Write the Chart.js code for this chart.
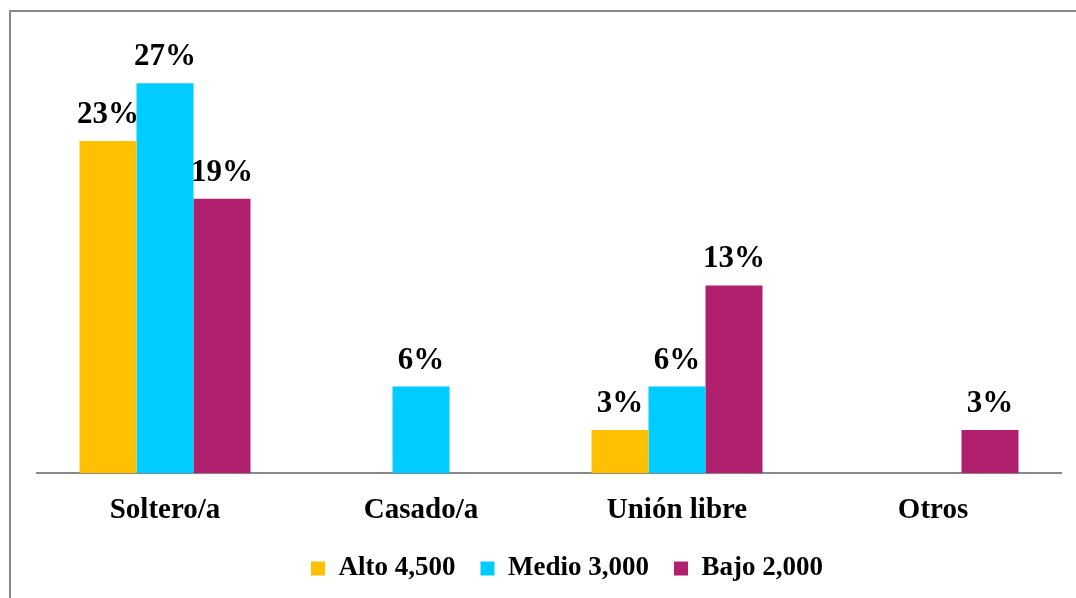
<!DOCTYPE html>
<html>
<head>
<meta charset="utf-8">
<script src="https://cdn.jsdelivr.net/npm/chart.js@4.4.0/dist/chart.umd.min.js"></script>
<style>
  html, body { margin: 0; padding: 0; background: #fff; }
  #wrap { width: 1076px; height: 598px; }
</style>
</head>
<body>
<div id="wrap"><canvas id="grafico"></canvas></div>
<script>
// Datos del gráfico
const categorias = ['Soltero/a', 'Casado/a', 'Unión libre', 'Otros'];
const nombresSeries = ['Alto 4,500', 'Medio 3,000', 'Bajo 2,000'];
const alto = [23, 0, 3, 0];
const medio = [27, 6, 6, 0];
const bajo = [19, 0, 13, 3];
const colores = ['#FFC000', '#00CCFF', '#B0206E'];

const fuente = '"Liberation Serif", "Times New Roman", serif';

// Marco gris alrededor del gráfico
const marco = {
    id: 'marco',
    beforeDraw(chart) {
        const c = chart.ctx;
        c.save();
        c.strokeStyle = '#888888';
        c.lineWidth = 2;
        c.strokeRect(10, 11, 1100, 700);
        c.restore();
    }
};

// Etiquetas de porcentaje encima de cada barra
const etiquetas = {
    id: 'etiquetas',
    afterDatasetsDraw(chart) {
        const c = chart.ctx;
        c.save();
        c.font = 'bold 31px ' + fuente;
        c.fillStyle = '#000';
        c.textAlign = 'center';
        c.textBaseline = 'alphabetic';
        chart.data.datasets.forEach((ds, i) => {
            const meta = chart.getDatasetMeta(i);
            meta.data.forEach((bar, j) => {
                const v = ds.data[j];
                if (!v) return;
                c.fillText(v + '%', bar.x, bar.y - 18);
            });
        });
        c.restore();
    }
};

// La leyenda usa padding 25 para separar los elementos,
// pero sin robar altura al gráfico
const extra = 18;
const ajusteLeyenda = {
    id: 'ajusteLeyenda',
    beforeLayout(chart) {
        const lg = chart.legend;
        if (lg && !lg._ajustada) {
            const fitOrig = lg.fit;
            lg.fit = function () {
                fitOrig.call(this);
                this.height -= extra;
            };
            lg._ajustada = true;
        }
    },
    afterLayout(chart) {
        const lg = chart.legend;
        lg.top -= extra;
        lg.left += 18;
        lg.right += 18;
    }
};

const datos = {
    labels: categorias,
    datasets: [
        { label: nombresSeries[0], data: alto, backgroundColor: colores[0] },
        { label: nombresSeries[1], data: medio, backgroundColor: colores[1] },
        { label: nombresSeries[2], data: bajo, backgroundColor: colores[2] }
    ]
};

const opciones = {
    responsive: true,
    maintainAspectRatio: false,
    animation: false,
    layout: { padding: { left: 37, right: 15, top: 40, bottom: 6 } },
    datasets: {
        bar: { barPercentage: 1, categoryPercentage: 0.668 }
    },
    scales: {
        x: {
            grid: { display: false, drawTicks: false },
            border: { display: true, color: '#888888', width: 2 },
            ticks: {
                color: '#000',
                padding: 20,
                font: { family: fuente, size: 29, weight: 'bold' }
            }
        },
        y: {
            display: false,
            min: 0,
            max: 30
        }
    },
    plugins: {
        tooltip: { enabled: false },
        legend: {
            position: 'bottom',
            labels: {
                color: '#000',
                boxWidth: 14,
                boxHeight: 14,
                padding: 25,
                font: { family: fuente, size: 27, weight: 'bold' }
            }
        }
    }
};

new Chart(document.getElementById('grafico'), {
    type: 'bar',
    data: datos,
    options: opciones,
    plugins: [marco, etiquetas, ajusteLeyenda]
});
</script>
</body>
</html>
